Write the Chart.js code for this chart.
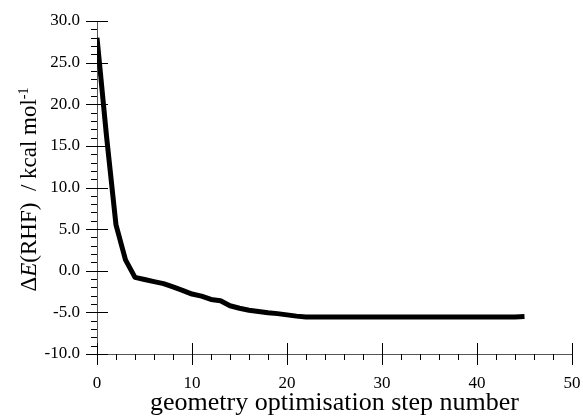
<!DOCTYPE html>
<html>
<head>
<meta charset="utf-8">
<script src="https://cdn.jsdelivr.net/npm/chart.js@4.4.1/dist/chart.umd.min.js"></script>
<style>
  html, body { margin: 0; padding: 0; background: #ffffff; }
  #chart_wrapper { width: 583px; height: 419px; }
</style>
</head>
<body>
<div id="chart_wrapper"><canvas id="myChart" width="583" height="419"></canvas></div>
<script>
// step numbers and energies
let steps = [];
for (let i = 0; i <= 45; i++) steps.push(i);
let energies = [
  28.0, 16.2, 5.5, 1.3, -0.8, -1.05, -1.3, -1.55, -1.95, -2.35,
  -2.8, -3.05, -3.45, -3.6, -4.2, -4.5, -4.75, -4.9, -5.05, -5.15,
  -5.3, -5.45, -5.55, -5.55, -5.55, -5.55, -5.55, -5.55, -5.55, -5.55,
  -5.55, -5.55, -5.55, -5.55, -5.55, -5.55, -5.55, -5.55, -5.55, -5.55,
  -5.55, -5.55, -5.55, -5.55, -5.55, -5.5
];
let xMin = 0, xMax = 50, xMinorStep = 2, xMajorStep = 10;
let yMin = -10, yMax = 30, yMinorStep = 1, yMajorStep = 5;
let xTitle = "geometry optimisation step number";
let yTitleParts = [
  { text: "\u0394", style: "normal" },
  { text: "E", style: "italic" },
  { text: "(RHF)  / kcal mol", style: "normal" },
  { text: "-1", style: "sup" }
];

const serif = "'Liberation Serif', 'Times New Roman', serif";

// 軸の目盛り線（内外にまたがる主目盛り）
const tickMarks = {
  id: "tickMarks",
  afterDraw(chart) {
    const ctx = chart.ctx;
    const area = chart.chartArea;
    const xs = chart.scales.x;
    const ys = chart.scales.y;
    ctx.save();
    ctx.strokeStyle = "#000000";
    ctx.lineWidth = 1;
    ctx.beginPath();
    ys.ticks.forEach((t) => {
      const py = Math.round(ys.getPixelForValue(t.value)) + 0.5;
      const lx = Math.round(area.left);
      if (t.value % yMajorStep === 0) {
        ctx.moveTo(lx - 11, py);
        ctx.lineTo(lx + 11, py);
      } else {
        ctx.moveTo(lx - 6, py);
        ctx.lineTo(lx, py);
      }
    });
    xs.ticks.forEach((t) => {
      const px = Math.round(xs.getPixelForValue(t.value)) + 0.5;
      const by = Math.round(area.bottom);
      if (t.value % xMajorStep === 0) {
        ctx.moveTo(px, by - 11);
        ctx.lineTo(px, by + 11);
      } else {
        ctx.moveTo(px, by);
        ctx.lineTo(px, by + 6);
      }
    });
    ctx.stroke();
    ctx.restore();
  }
};

// y軸タイトル（斜体・上付き文字を含む）
const yTitle = {
  id: "yTitle",
  afterDraw(chart) {
    const ctx = chart.ctx;
    const size = 23;
    const supSize = 14;
    const fontOf = (p) => {
      if (p.style === "italic") return "italic " + size + "px " + serif;
      if (p.style === "sup") return supSize + "px " + serif;
      return size + "px " + serif;
    };
    ctx.save();
    let total = 0;
    yTitleParts.forEach((p) => {
      ctx.font = fontOf(p);
      total += ctx.measureText(p.text).width;
    });
    const centerY = (chart.chartArea.top + chart.chartArea.bottom) / 2 + 2;
    ctx.translate(36, centerY + total / 2);
    ctx.rotate(-Math.PI / 2);
    ctx.fillStyle = "#000000";
    ctx.textBaseline = "alphabetic";
    ctx.textAlign = "left";
    let x = 0;
    yTitleParts.forEach((p) => {
      ctx.font = fontOf(p);
      ctx.fillText(p.text, x, p.style === "sup" ? -8 : 0);
      x += ctx.measureText(p.text).width;
    });
    ctx.restore();
  }
};

let config = {
  type: "line",
  data: {
    datasets: [
      {
        data: steps.map((s, i) => ({ x: s, y: energies[i] })),
        borderColor: "#000000",
        borderWidth: 5,
        borderJoinStyle: "round",
        fill: false,
        tension: 0,
        pointRadius: 0,
        pointHoverRadius: 0
      }
    ]
  },
  options: {
    responsive: false,
    animation: false,
    layout: { padding: { left: 0, top: 21, right: 11, bottom: 0 } },
    plugins: {
      legend: { display: false },
      tooltip: { enabled: false }
    },
    scales: {
      x: {
        type: "linear",
        min: xMin,
        max: xMax,
        afterFit: (scale) => {
          scale.height = 65;
          scale.paddingRight = 0;
          scale.paddingLeft = 0;
        },
        grid: { drawOnChartArea: false, drawTicks: false },
        border: { display: true, color: "#555555", width: 1 },
        ticks: {
          stepSize: xMinorStep,
          autoSkip: false,
          maxRotation: 0,
          padding: 19,
          color: "#000000",
          font: { family: serif, size: 17 },
          callback: (v) => (v % xMajorStep === 0 ? String(v) : "")
        },
        title: {
          display: true,
          text: xTitle,
          color: "#000000",
          font: { family: serif, size: 26 },
          padding: { top: 0, bottom: 0 }
        }
      },
      y: {
        min: yMin,
        max: yMax,
        afterFit: (scale) => {
          scale.width = 97;
          scale.paddingTop = 0;
          scale.paddingBottom = 0;
        },
        grid: { drawOnChartArea: false, drawTicks: false },
        border: { display: true, color: "#555555", width: 1 },
        ticks: {
          stepSize: yMinorStep,
          autoSkip: false,
          padding: 17,
          color: "#000000",
          font: { family: serif, size: 17 },
          callback: (v) => (v % yMajorStep === 0 ? v.toFixed(1) : "")
        }
      }
    }
  },
  plugins: [tickMarks, yTitle]
};

window.onload = function () {
  const ctx = document.getElementById("myChart").getContext("2d");
  window.myLine = new Chart(ctx, config);
};
</script>
</body>
</html>
